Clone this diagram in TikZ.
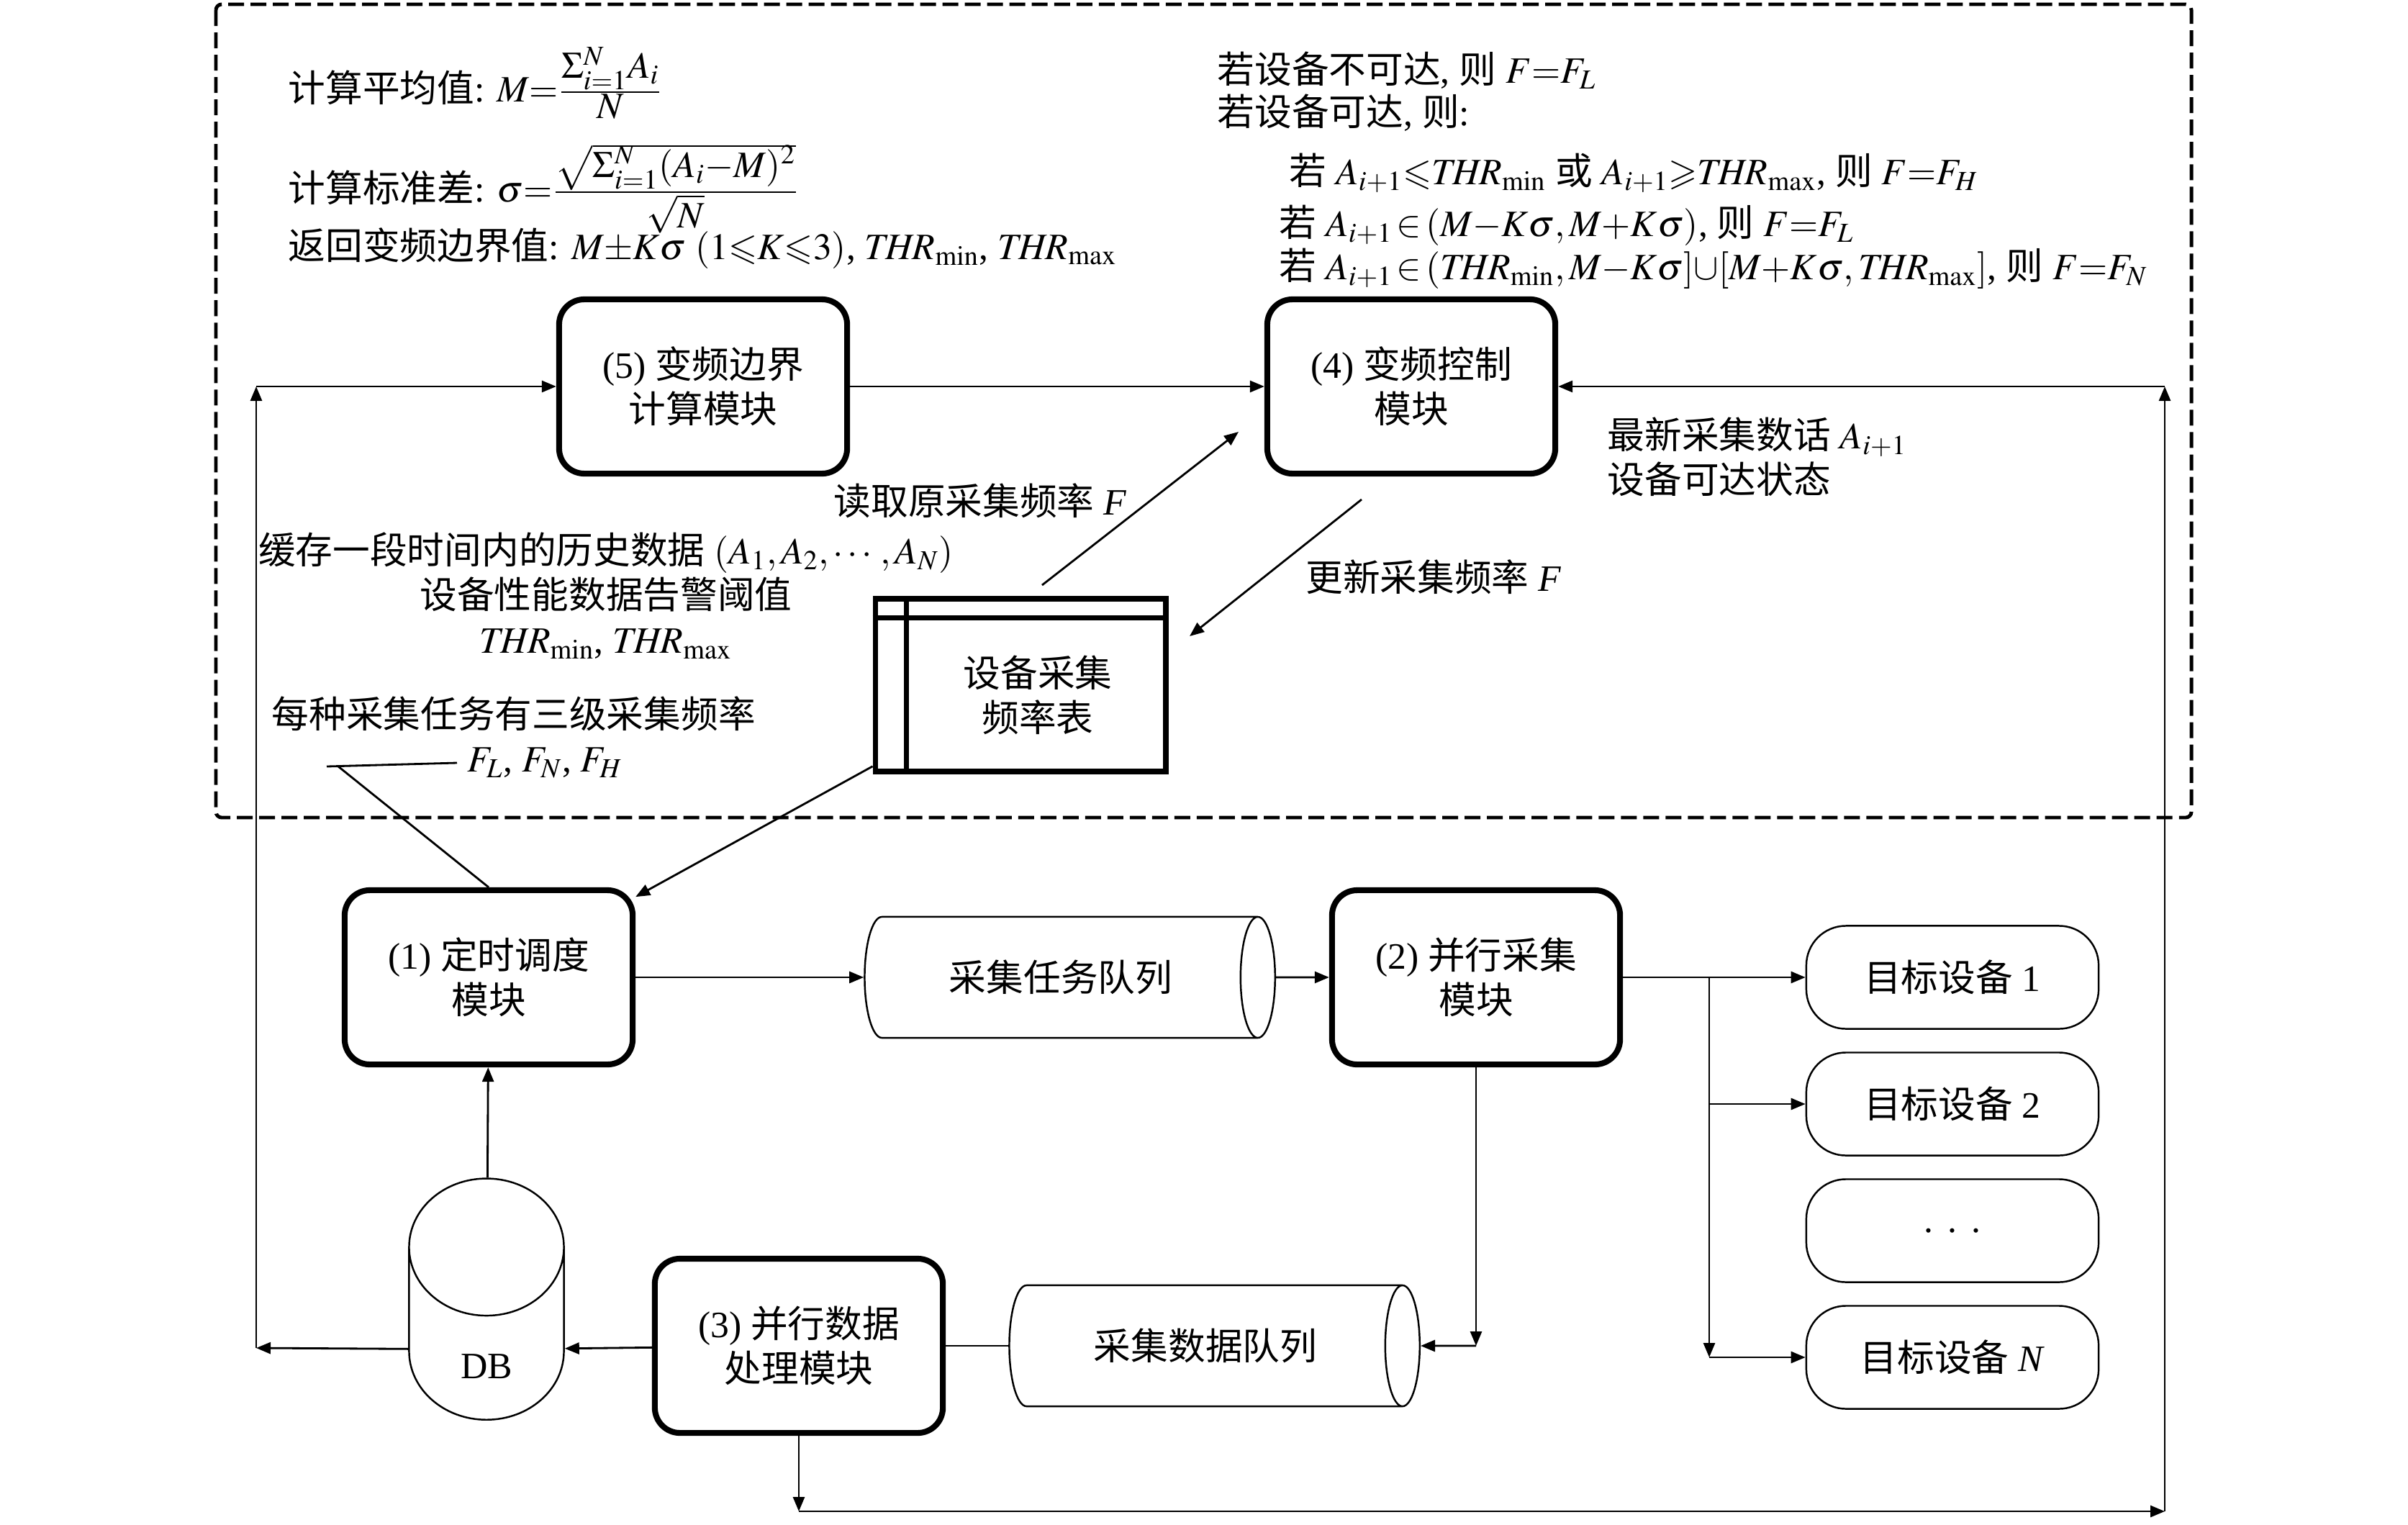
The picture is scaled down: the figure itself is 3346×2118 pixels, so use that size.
\documentclass[tikz,border=0pt]{standalone}
\usepackage{amsmath}
\usepackage{amssymb}
\usepackage{mathptmx}
\usepackage{fontspec}
\setmainfont{Liberation Serif}
\newfontfamily\cjk{Noto Sans CJK SC}
\newcommand{\zh}[1]{{\cjk #1}}
\newcommand{\thr}[1]{\mathit{THR}_{\mathrm{#1}}}
\newcommand{\cfr}[2]{\frac{\textstyle #1}{\textstyle #2}}
\usetikzlibrary{shapes.geometric,arrows.meta}

\begin{document}
\begin{tikzpicture}[x=0.01cm,y=-0.01cm,>={Triangle[length=0.2cm,width=0.16cm]},
		every node/.style={font=\fontsize{14.7}{17.6}\selectfont},
		module/.style={draw,line width=2.3pt,rounded corners=0.35cm,minimum width=4cm,minimum height=2.42cm,align=center,inner sep=0pt},
		queue/.style={draw,line width=0.7pt,cylinder,aspect=1,minimum height=5.7cm,minimum width=1.68cm,inner sep=0pt},
		device/.style={draw,line width=0.7pt,rounded corners=0.55cm,minimum width=4.06cm,minimum height=1.43cm},
		flow/.style={->,line width=0.8pt},
		note/.style={anchor=west,inner sep=0pt,align=left},
		formula/.style={anchor=base west,inner sep=0pt}]
	\useasboundingbox (0,0) rectangle (3346,2118);
	\draw[line width=1.4pt,dash pattern=on 0.22cm off 0.09cm,rounded corners=0.08cm] (300,6) rectangle (3045,1136);

	\node[formula] (mean) at (400,141) {\zh{计算平均值}: $M{=}\cfr{\Sigma_{i=1}^{N}A_i}{N}$};
	\node[formula] (std) at (400,280) {\zh{计算标准差}: $\sigma{=}\cfr{\sqrt{\smash[t]{\Sigma_{i=1}^{N}(A_i{-}M)^2}\vphantom{(}}}{\sqrt{N}}$};
	\node[formula] (bound) at (400,360) {\zh{返回变频边界值}: $M{\pm}K\sigma$ $(1{\leqslant}K{\leqslant}3)$, $\thr{min}$, $\thr{max}$};
	\node[note] (r1) at (1691,98) {\zh{若设备不可达}, \zh{则} $F{=}F_L$};
	\node[note] (r2) at (1691,157) {\zh{若设备可达}, \zh{则}:};
	\node[note] (r3) at (1791,240) {\zh{若} $A_{i+1}{\leqslant}\thr{min}$ \zh{或} $A_{i+1}{\geqslant}\thr{max}$, \zh{则} $F{=}F_H$};
	\node[note] (r4) at (1777,313) {\zh{若} $A_{i+1}\,{\in}\,(M{-}K\sigma, M{+}K\sigma)$, \zh{则} $F{=}F_L$};
	\node[note] (r5) at (1777,373) {\zh{若} $A_{i+1}\,{\in}\,(\thr{min}, M{-}K\sigma]{\cup}[M{+}K\sigma, \thr{max}]$, \zh{则} $F{=}F_N$};

	\node[module] (calc) at (977,537) {(5) \zh{变频边界}\\\zh{计算模块}};
	\node[module] (ctrl) at (1961,537) {(4) \zh{变频控制}\\\zh{模块}};
	\node[module] (sched) at (679,1358) {(1) \zh{定时调度}\\\zh{模块}};
	\node[module] (coll) at (2051,1358) {(2) \zh{并行采集}\\\zh{模块}};
	\node[module] (proc) at (1110,1870) {(3) \zh{并行数据}\\\zh{处理模块}};
	\node[queue] (tq) at (1474,1358) {\zh{采集任务队列}};
	\node[queue] (dq) at (1675,1870) {\zh{采集数据队列}};
	\node[draw,line width=0.7pt,cylinder,shape border rotate=90,aspect=2,minimum width=2.15cm,minimum height=3.35cm] (db) at (676,1875) {\raisebox{-0.24cm}[\height][0pt]{DB}};
	\node[draw,line width=2.2pt,minimum width=4.03cm,minimum height=2.4cm] (tab) at (1418,952) {};
	\draw[line width=2pt] ([yshift=-0.3cm]tab.north west) -- ([yshift=-0.3cm]tab.north east);
	\draw[line width=2pt] ([xshift=0.47cm]tab.north west) -- ([xshift=0.47cm]tab.south west);
	\node[align=center] (tabtxt) at (1442,966) {\zh{设备采集}\\\zh{频率表}};
	\foreach \name/\y/\txt in {d1/1358/{\zh{目标设备} 1},d2/1534/{\zh{目标设备} 2},d3/1710/{.\hspace{0.2cm}.\hspace{0.2cm}.},dn/1886/{\zh{目标设备} \textit{N}}}
		\node[device] (\name) at (2713,\y) {\txt};

	\node (rdlbl) at (1362,696) {\zh{读取原采集频率} \textit{F}};
	\node (uplbl) at (1992,802) {\zh{更新采集频率} \textit{F}};
	\node[note] (newlbl) at (2233,635) {\zh{最新采集数话} $A_{i+1}$\\\zh{设备可达状态}};
	\node[align=center] (hist) at (842,828) {\zh{缓存一段时间内的历史数据} $(A_1, A_2, \cdots, A_N)$\\\zh{设备性能数据告警阈值}\\$\thr{min}$, $\thr{max}$};
	\node[note] (three) at (377,992) {\zh{每种采集任务有三级采集频率}};
	\node[note] (flev) at (649,1060) {$F_L$, $F_N$, $F_H$};

	\coordinate (lb) at (356,1873);
	\coordinate (lt) at (356,537);
	\coordinate (rb) at (3008,2100);
	\coordinate (rt) at (3008,537);
	\coordinate (br) at (2375,1358);
	\coordinate (rd1) at (1448,813);
	\coordinate (rd2) at (1721,600);
	\coordinate (up1) at (1892,694);
	\coordinate (up2) at (1653,884);
	\coordinate (cl) at (454,1065);
	\coordinate (ck) at (470,1065);

	\draw[flow] (calc) -- (ctrl);
	\draw[flow] (db) -- (lb);
	\draw[flow] (lb) -- (lt);
	\draw[flow] (lt) -- (calc);
	\draw[flow] (proc) -- (proc |- rb);
	\draw[flow] (proc |- rb) -- (rb);
	\draw[flow] (rb) -- (rt);
	\draw[flow] (rt) -- (ctrl);
	\draw[flow] (sched) -- (tq);
	\draw[flow] (tq) -- (coll);
	\draw[line width=0.8pt] (coll) -- (br);
	\draw[flow] (br) -- (d1);
	\draw[flow] (br) -- (br |- dn);
	\draw[flow] (br |- d2) -- (d2);
	\draw[flow] (br |- dn) -- (dn);
	\draw[flow] (coll) -- (coll |- dq);
	\draw[flow] (coll |- dq) -- (dq);
	\draw[line width=0.8pt] (dq) -- (proc);
	\draw[flow] (proc) -- (db);
	\draw[flow] (db) -- (sched);
	\draw[flow] (tab) -- (sched);
	\draw[flow] (rd1) -- (rd2);
	\draw[flow] (up1) -- (up2);
	\draw[line width=0.8pt] ([xshift=-0.14cm]flev.west) -- (cl);
	\draw[line width=0.8pt] (ck) -- (sched.north);
\end{tikzpicture}
\end{document}
